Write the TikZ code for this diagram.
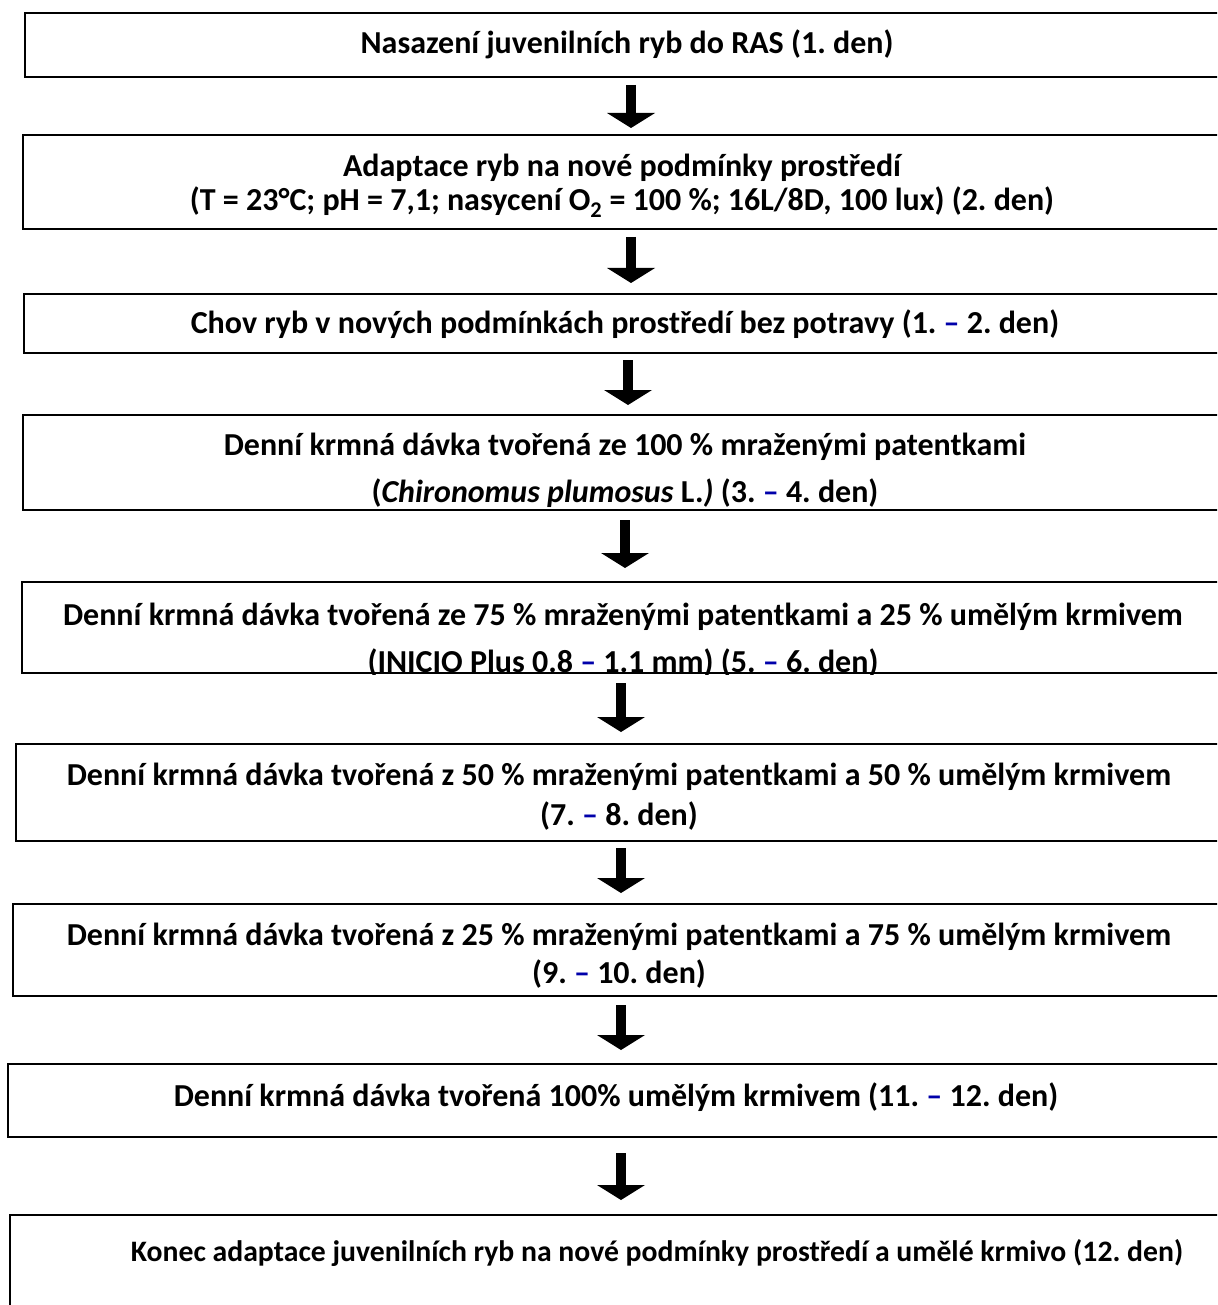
\documentclass[tikz,border=0pt]{standalone}
\usepackage{fontspec}
\setmainfont{Carlito}
\usepackage{xcolor}
\usetikzlibrary{arrows.meta, positioning}

\definecolor{dashblue}{RGB}{0,0,170}
\newcommand{\bdash}{\textcolor{dashblue}{–}}
\frenchspacing

\begin{document}
\begin{tikzpicture}[
    x=1pt, y=-1pt,
    stage/.style={rectangle, draw=black, line width=2pt, inner sep=0pt},
    stagetext/.style={font=\bfseries\fontsize{32}{34}\selectfont, align=center,
                      anchor=base, inner sep=0pt},
    fat/.style={line width=10pt, -{Triangle[width=48pt, length=15pt, line width=0pt]}}
]
\useasboundingbox (0,0) rectangle (1217,1305);
\clip (0,0) rectangle (1217,1305);

% stage boxes
\node[stage, minimum width=1204pt, minimum height=64pt] (b1) at (627,45) {};
\node[stage, minimum width=1202pt, minimum height=94pt] (b2) at (624,182) {};
\node[stage, minimum width=1202pt, minimum height=59pt] (b3) at (625,323.5) {};
\node[stage, minimum width=1204pt, minimum height=95pt] (b4) at (625,462.5) {};
\node[stage, minimum width=1202pt, minimum height=91pt] (b5) at (623,627.5) {};
\node[stage, minimum width=1206pt, minimum height=97pt] (b6) at (619,792.5) {};
\node[stage, minimum width=1213pt, minimum height=92pt] (b7) at (619.5,950) {};
\node[stage, minimum width=1216pt, minimum height=73pt] (b8) at (616,1100.5) {};
\node[stage, minimum width=1294pt, minimum height=110pt] (b9) at (657,1270) {};

% texts (base = last line)
\node[stagetext] (t1) at (627,54) {Nasazení juvenilních ryb do RAS (1. den)};
\node[stagetext] (t2) at (622,211) {Adaptace ryb na nové podmínky prostředí\\
    (T = 23°C; pH = 7,1; nasycení O\textsubscript{2} = 100 \%; 16L/8D, 100 lux) (2. den)};
\node[stagetext] (t3) at (625,334) {Chov ryb v nových podmínkách prostředí bez potravy (1. \bdash{} 2. den)};
\node[stagetext] (t4) at (625,502) {Denní krmná dávka tvořená ze 100 \% mraženými patentkami\\[13pt]
    (\textit{Chironomus plumosus} L.\textit{)} (3. \bdash{} 4. den)};
\begin{scope}
  \clip (b5.south west) rectangle (b5.north east);
  \node[stagetext] (t5) at (623,672) {Denní krmná dávka tvořená ze 75 \% mraženými patentkami a 25 \% umělým krmivem\\[13pt]
      (INICIO Plus 0.8 \bdash{} 1.1 mm) (5. \bdash{} 6. den)};
\end{scope}
\node[stagetext] (t6) at (619,825) {Denní krmná dávka tvořená z 50 \% mraženými patentkami a 50 \% umělým krmivem\\[6pt]
    (7. \bdash{} 8. den)};
\node[stagetext] (t7) at (619,983) {Denní krmná dávka tvořená z 25 \% mraženými patentkami a 75 \% umělým krmivem\\[4pt]
    (9. \bdash{} 10. den)};
\node[stagetext] (t8) at (616,1106) {Denní krmná dávka tvořená 100\% umělým krmivem (11. \bdash{} 12. den)};
\node[stagetext, font=\bfseries\fontsize{29.7}{34}\selectfont] (t9) at (657,1261)
    {Konec adaptace juvenilních ryb na nové podmínky prostředí a umělé krmivo (12. den)};

% arrows between stages
\foreach \a/\b/\dx/\s/\e in {b1/b2/4/7/6, b2/b3/7/7/10, b3/b4/3/6/9, b4/b5/0/9/13,
                             b5/b6/-2/9/11, b6/b7/2/6/10, b7/b8/1.5/8/13, b8/b9/5/15/14} {
    \draw[fat, shorten <=\s pt, shorten >=\e pt]
        ([xshift=\dx pt]\a.south) -- ([xshift=\dx pt]\a.south |- \b.north);
}
\end{tikzpicture}
\end{document}
